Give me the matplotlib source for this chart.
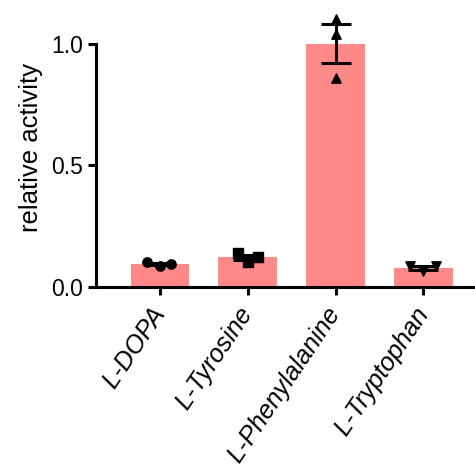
import matplotlib
matplotlib.use("Agg")
import matplotlib.pyplot as plt
import matplotlib.transforms as mtransforms
import numpy as np

categories = ["L-DOPA", "L-Tyrosine", "L-Phenylalanine", "L-Tryptophan"]
means = [0.094, 0.122, 1.0, 0.078]
errors = [0.004, 0.011, 0.08, 0.007]
points = [
    [0.102, 0.087, 0.095],
    [0.140, 0.103, 0.124],
    [1.100, 1.040, 0.860],
]
points.append([0.086, 0.064, 0.086])
offsets = [
    [-0.15, 0.0, 0.12],
    [-0.11, 0.0, 0.12],
    [0.0, 0.0, 0.0],
    [-0.15, 0.0, 0.14],
]
markers = ["o", "s", "^", "v"]
yticks = [0.0, 0.5, 1.0]
ytick_labels = ["0.0", "0.5", "1.0"]

plt.rcParams["font.family"] = ["Liberation Sans", "DejaVu Sans"]

fig = plt.figure(figsize=(4.75, 4.69), dpi=100)
ax = fig.add_axes([96 / 475, (469 - 287) / 469, 379 / 475, 280 / 469])

x = np.arange(len(categories))
ax.bar(x, means, width=0.67, color="#FF8888", zorder=1)
ax.errorbar(x, means, yerr=errors, fmt="none", ecolor="black",
            elinewidth=2.2, capsize=11, capthick=2.2, zorder=3, clip_on=False)
for i in range(len(categories)):
    ax.scatter(np.full(3, x[i]) + np.array(offsets[i]), points[i],
               marker=markers[i], s=45, color="black", zorder=4, clip_on=False)

ax.set_xlim(-0.73, 3.59)
ax.set_ylim(0, 1.15)
ax.set_yticks(yticks)
ax.set_yticklabels(ytick_labels, fontsize=16.5)
ax.set_xticks(x)
ax.set_xticklabels(categories, fontsize=18.3, style="italic", rotation=56,
                   ha="right", va="center", rotation_mode="anchor")
offset = mtransforms.ScaledTranslation(9 / 100, 0, fig.dpi_scale_trans)
for lab in ax.get_xticklabels():
    lab.set_transform(lab.get_transform() + offset)
ax.set_ylabel("relative activity", fontsize=18.5, labelpad=6)

for s in ["top", "right"]:
    ax.spines[s].set_visible(False)
for s in ["left", "bottom"]:
    ax.spines[s].set_linewidth(2.2)
ax.spines["left"].set_bounds(0, 1.0)
ax.tick_params(axis="both", width=2.2, length=6, color="black")
ax.tick_params(axis="x", pad=10)
ax.tick_params(axis="y", pad=3)

fig.savefig("out.png", dpi=100)
